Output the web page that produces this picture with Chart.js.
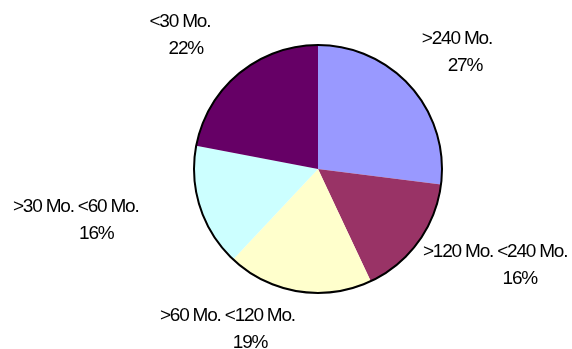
<!DOCTYPE html>
<html>
<head>
<meta charset="utf-8">
<script src="https://cdn.jsdelivr.net/npm/chart.js@4.4.1/dist/chart.umd.min.js"></script>
<style>
  html, body { margin: 0; padding: 0; background: #fff; }
  #wrap { width: 572px; height: 349px; position: relative; }
</style>
</head>
<body>
<div id="wrap"><canvas id="pie"></canvas></div>
<script>
// Loan term breakdown
const categories = ['>240 Mo.', '>120 Mo. <240 Mo.', '>60 Mo. <120 Mo.', '>30 Mo. <60 Mo.', '<30 Mo.'];
const shares = [27, 16, 19, 16, 22];
const sliceColors = ['#9999FF', '#993366', '#FFFFCC', '#CCFFFF', '#660066'];

// label styling / placement tweaks (px)
const LABEL_FONT = '19px "Liberation Sans", Arial, sans-serif';
const LABEL_SPACING = '-1.2px';
const LINE_GAP = 27;
const LABEL_GAP = 10;
const labelNudge = [[16, -10], [16.5, 2], [-24, 1.5], [0, 2], [-11, -10]];

// outer rim only, slices have no separating strokes
const rimPlugin = {
  id: 'rim',
  afterDatasetsDraw(chart) {
    const arc = chart.getDatasetMeta(0).data[0];
    if (!arc) return;
    const ctx = chart.ctx;
    ctx.save();
    ctx.beginPath();
    ctx.arc(arc.x, arc.y, arc.outerRadius, 0, Math.PI * 2);
    ctx.lineWidth = 2;
    ctx.strokeStyle = '#000';
    ctx.stroke();
    ctx.restore();
  }
};

// two-line labels outside the pie: category name + percent
const outsideLabels = {
  id: 'outsideLabels',
  afterDraw(chart) {
    const ctx = chart.ctx;
    const meta = chart.getDatasetMeta(0);
    const total = shares.reduce((a, b) => a + b, 0);
    ctx.save();
    ctx.font = LABEL_FONT;
    ctx.letterSpacing = LABEL_SPACING;
    ctx.fillStyle = '#000';
    ctx.textAlign = 'left';
    ctx.textBaseline = 'middle';
    meta.data.forEach((arc, i) => {
      const mid = (arc.startAngle + arc.endAngle) / 2;
      const dx = Math.cos(mid), dy = Math.sin(mid);
      const lines = [categories[i], Math.round(shares[i] / total * 100) + '%'];
      const widths = lines.map(t => ctx.measureText(t).width);
      // lines sit in a box laid out wider than the condensed glyphs
      const boxW = widths.map(w => w / 0.69);
      const hw = boxW[0] / 2, hh = LINE_GAP;
      const r = arc.outerRadius + LABEL_GAP;
      const cx = arc.x + r * dx + hw * dx + labelNudge[i][0];
      const cy = arc.y + r * dy + hh * dy + labelNudge[i][1];
      lines.forEach((t, k) => {
        ctx.fillText(t, cx - boxW[k] / 2, cy + (k === 0 ? -LINE_GAP / 2 : LINE_GAP / 2));
      });
    });
    ctx.restore();
  }
};

new Chart(document.getElementById('pie'), {
  type: 'pie',
  data: {
    labels: categories,
    datasets: [{
      data: shares,
      backgroundColor: sliceColors,
      borderWidth: 0,
      hoverBorderWidth: 0,
      offset: 0,
      hoverOffset: 0
    }]
  },
  options: {
    responsive: true,
    maintainAspectRatio: false,
    animation: false,
    events: [],
    layout: { padding: { left: 194, right: 130, top: 44.5, bottom: 55.5 } },
    plugins: { legend: { display: false }, tooltip: { enabled: false } }
  },
  plugins: [rimPlugin, outsideLabels]
});
</script>
</body>
</html>
